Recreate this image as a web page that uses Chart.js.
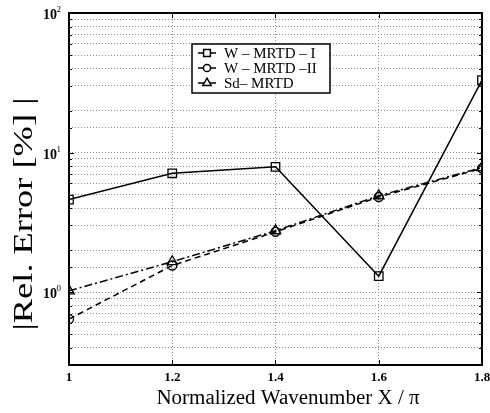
<!DOCTYPE html>
<html>
<head>
<meta charset="utf-8">
<script src="https://cdn.jsdelivr.net/npm/chart.js@4/dist/chart.umd.min.js"></script>
<style>
  html, body { margin: 0; padding: 0; background: #fff; }
  canvas { display: block; }
</style>
</head>
<body>
<canvas id="errChart" width="490" height="413"></canvas>
<script>
// normalized wavenumber X / pi
var xValues = [1, 1.2, 1.4, 1.6, 1.8];
// relative error [%]
var wMrtdI  = [4.6, 7.1, 7.9, 1.3, 33];
var wMrtdII = [0.64, 1.55, 2.7, 4.8, 7.7];
var sdMrtd  = [1.02, 1.65, 2.75, 4.9, 7.8];

var seriesNames = ['W \u2013 MRTD \u2013 I', 'W \u2013 MRTD \u2013II', 'Sd\u2013 MRTD'];
var xTicks = [1, 1.2, 1.4, 1.6, 1.8];
var yDecades = [1, 10, 100];
var yExponents = ['0', '1', '2'];

var serif = "'Liberation Serif', 'Times New Roman', serif";

function toPoints(ys) {
  return xValues.map(function (x, i) { return { x: x, y: ys[i] }; });
}

var dashes = [[], [6, 4], [8, 3, 2, 3]];
var styles = ['rect', 'circle', 'triangle'];
var radii = [6, 4.5, 6];

var datasets = [wMrtdI, wMrtdII, sdMrtd].map(function (ys, i) {
  return {
    label: seriesNames[i],
    data: toPoints(ys),
    borderColor: '#000',
    borderWidth: 1.5,
    borderDash: dashes[i],
    pointStyle: styles[i],
    pointRadius: radii[i],
    pointBorderWidth: 1.3,
    pointBorderColor: '#000',
    pointBackgroundColor: 'rgba(0,0,0,0)',
    fill: false,
    tension: 0
  };
});

// frame, inward ticks, labels, titles and the boxed legend
var decorations = {
  id: 'decorations',
  afterDraw: function (chart) {
    var ctx = chart.ctx;
    var a = chart.chartArea;
    var xs = chart.scales.x;
    var ys = chart.scales.y;
    ctx.save();
    ctx.strokeStyle = '#000';
    ctx.fillStyle = '#000';
    ctx.setLineDash([]);

    // inward tick marks
    ctx.lineWidth = 1;
    xTicks.forEach(function (v) {
      var px = Math.round(xs.getPixelForValue(v)) + 0.5;
      ctx.beginPath();
      ctx.moveTo(px, a.bottom); ctx.lineTo(px, a.bottom - 5);
      ctx.moveTo(px, a.top); ctx.lineTo(px, a.top + 5);
      ctx.stroke();
    });
    ys.ticks.forEach(function (t) {
      var py = Math.round(ys.getPixelForValue(t.value)) + 0.5;
      var major = yDecades.indexOf(t.value) >= 0;
      var len = major ? 5 : 3;
      ctx.beginPath();
      ctx.moveTo(a.left, py); ctx.lineTo(a.left + len, py);
      ctx.moveTo(a.right, py); ctx.lineTo(a.right - len, py);
      ctx.stroke();
    });

    // frame
    ctx.lineWidth = 2;
    ctx.strokeRect(a.left, a.top, a.right - a.left, a.bottom - a.top);

    // x tick labels
    ctx.font = 'bold 13px ' + serif;
    ctx.textAlign = 'center';
    ctx.textBaseline = 'alphabetic';
    xTicks.forEach(function (v) {
      ctx.fillText(String(v), xs.getPixelForValue(v), 381);
    });

    // y tick labels 10^n
    yDecades.forEach(function (v, i) {
      var py = ys.getPixelForValue(v);
      ctx.font = '9px ' + serif;
      ctx.textAlign = 'right';
      ctx.fillText(yExponents[i], a.left - 8, py - 1);
      ctx.font = 'bold 14px ' + serif;
      ctx.fillText('10', a.left - 12, py + 6);
    });

    // axis titles
    ctx.textAlign = 'center';
    ctx.save();
    ctx.translate(288, 404);
    ctx.scale(1.05, 1);
    ctx.font = '20px ' + serif;
    ctx.fillText('Normalized Wavenumber X / \u03c0', 0, 0);
    ctx.restore();

    ctx.save();
    ctx.translate(32, 214);
    ctx.rotate(-Math.PI / 2);
    ctx.scale(1.3, 1);
    ctx.font = '28px ' + serif;
    ctx.fillText('|Rel. Error [%] |', 0, 0);
    ctx.restore();

    // legend
    var box = { left: 192, top: 44, right: 330, bottom: 93 };
    ctx.fillStyle = '#fff';
    ctx.fillRect(box.left, box.top, box.right - box.left, box.bottom - box.top);
    ctx.lineWidth = 1.5;
    ctx.strokeStyle = '#000';
    ctx.strokeRect(box.left, box.top, box.right - box.left, box.bottom - box.top);
    ctx.font = '15px ' + serif;
    ctx.textAlign = 'left';
    ctx.textBaseline = 'middle';
    chart.data.datasets.forEach(function (ds, i) {
      var ry = box.top + 9 + i * 15;
      ctx.lineWidth = 1.5;
      ctx.setLineDash([]);
      ctx.beginPath();
      ctx.moveTo(198, ry); ctx.lineTo(216, ry);
      ctx.stroke();
      ctx.fillStyle = '#fff';
      Chart.helpers.drawPoint(ctx, {
        pointStyle: ds.pointStyle, radius: ds.pointRadius * 0.8,
        borderWidth: 1.3, rotation: 0
      }, 207, ry);
      ctx.fillStyle = '#000';
      ctx.fillText(ds.label, 224, ry + 1);
    });
    ctx.restore();
  }
};

var ctx = document.getElementById('errChart').getContext('2d');
var errChart = new Chart(ctx, {
  type: 'line',
  data: { datasets: datasets },
  options: {
    responsive: false,
    animation: false,
    devicePixelRatio: 1,
    layout: { padding: { left: 69, right: 8, top: 13, bottom: 48 } },
    plugins: { legend: { display: false }, tooltip: { enabled: false } },
    scales: {
      x: {
        type: 'linear', min: 1, max: 1.8,
        ticks: { display: false, stepSize: 0.2 },
        grid: { color: '#8a8a8a', lineWidth: 1, drawTicks: false },
        border: { display: false, dash: [1, 2] }
      },
      y: {
        type: 'logarithmic', min: 0.3, max: 100,
        ticks: { display: false, autoSkip: false },
        grid: { color: '#8a8a8a', lineWidth: 1, drawTicks: false },
        border: { display: false, dash: [1, 2] }
      }
    }
  },
  plugins: [decorations]
});
</script>
</body>
</html>
